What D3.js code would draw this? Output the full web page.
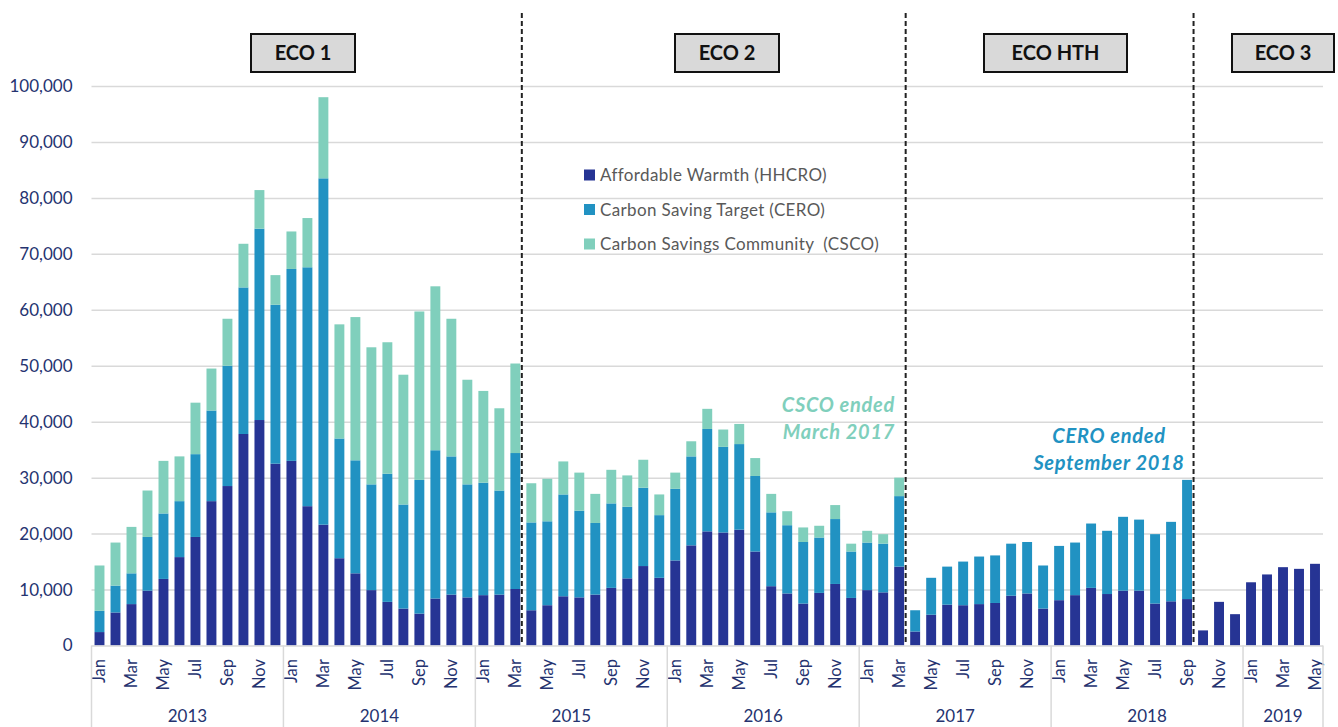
<!DOCTYPE html>
<html>
<head>
<meta charset="utf-8">
<script src="https://cdn.jsdelivr.net/npm/d3@7"></script>
<style>
  html, body { margin: 0; padding: 0; background: #fff; }
  svg { display: block; font-family: Lato, "Open Sans", sans-serif; }
</style>
</head>
<body>
<div id="chart"></div>
<script>
// data (measures per month, Jan 2013 - May 2019)
const years = [2013, 2014, 2015, 2016, 2017, 2018, 2019];
const monthNames = ["Jan","Feb","Mar","Apr","May","Jun","Jul","Aug","Sep","Oct","Nov","Dec"];
const monthsInYear = [12, 12, 12, 12, 12, 12, 5];

const hhcro = [
  2400, 5900, 7400, 9800, 11900, 15800, 19400, 25800, 28500, 37800, 40300, 32500,
  33000, 24900, 21600, 15600, 12900, 9900, 7800, 6600, 5700, 8400, 9100, 8600,
  9000, 9100, 10100, 6300, 7200, 8800, 8600, 9100, 10300, 12000, 14200, 12100,
  15200, 17900, 20400, 20200, 20700, 16800, 10600, 9300, 7500, 9400, 11000, 8500,
  9900, 9500, 14100, 2500, 5500, 7300, 7200, 7400, 7600, 8900, 9300, 6600,
  8100, 9000, 10300, 9200, 9800, 9800, 7500, 7900, 8300, 2700, 7800, 5600,
  11300, 12700, 14000, 13700, 14600
];
const cero = [
  3800, 4800, 5500, 9600, 11700, 10000, 14800, 16200, 21500, 26200, 34200, 28400,
  34300, 42700, 61900, 21400, 20200, 18900, 22900, 18600, 23900, 26500, 24700, 20200,
  20100, 18600, 24300, 15700, 15000, 18200, 15500, 12800, 15100, 12800, 14000, 11200,
  12800, 15900, 18300, 15300, 15300, 13500, 13200, 12200, 11000, 9900, 11600, 8300,
  8500, 8700, 12600, 3800, 6600, 6800, 7800, 8500, 8500, 9300, 9200, 7700,
  9700, 9400, 11500, 11300, 13200, 12700, 12400, 14200, 21300, 0, 0, 0,
  0, 0, 0, 0, 0
];
const csco = [
  8100, 7700, 8300, 8300, 9400, 8000, 9200, 7500, 8400, 7800, 6900, 5300,
  6700, 8800, 14500, 20400, 25600, 24500, 23500, 23200, 30100, 29300, 24600, 18700,
  16400, 14700, 16000, 7000, 7600, 5900, 6800, 5200, 6000, 5600, 5000, 3700,
  2900, 2700, 3600, 3100, 3600, 3200, 3300, 2500, 2600, 2100, 2500, 1400,
  2100, 1700, 3300, 0, 0, 0, 0, 0, 0, 0, 0, 0,
  0, 0, 0, 0, 0, 0, 0, 0, 0, 0, 0, 0,
  0, 0, 0, 0, 0
];

const seriesKeys = ["hhcro", "cero", "csco"];
const seriesNames = ["Affordable Warmth (HHCRO)", "Carbon Saving Target (CERO)", "Carbon Savings Community  (CSCO)"];
const seriesColors = ["#263494", "#2192c2", "#80cfbc"];

const yTicks = [0, 10000, 20000, 30000, 40000, 50000, 60000, 70000, 80000, 90000, 100000];

// scheme phases: first month of each new scheme
const schemeNames = ["ECO 1", "ECO 2", "ECO HTH", "ECO 3"];
const schemeStarts = ["2015-Apr", "2017-Apr", "2018-Oct"];

const notes = [
  { lines: ["CSCO ended", "March 2017"], color: "#80cfbc", anchor: "end", x: 895, y: 412 },
  { lines: ["CERO ended", "September 2018"], color: "#2192c2", anchor: "middle", x: 1109, y: 443 }
];

// ---- build the table ----
const months = [];
years.forEach((yr, yi) => {
  for (let m = 0; m < monthsInYear[yi]; m++) {
    months.push({ key: yr + "-" + monthNames[m], year: yr, month: m });
  }
});
const table = months.map((d, i) => ({ key: d.key, hhcro: hhcro[i], cero: cero[i], csco: csco[i] }));

// ---- layout ----
const W = 1338, H = 727;
const x0 = 91.5, x1 = 1323;
const yBase = 645.5, yTop = 86;
const ink = "#253370";

const svg = d3.select("#chart").append("svg")
  .attr("width", W).attr("height", H);

const x = d3.scaleBand()
  .domain(months.map(d => d.key))
  .range([x0, x1])
  .paddingInner(0.38)
  .paddingOuter(0.19);

const y = d3.scaleLinear().domain([0, 100000]).range([yBase, yTop]);

// y axis + gridlines
const yAxis = svg.append("g")
  .attr("transform", `translate(${x0},0)`)
  .call(d3.axisLeft(y).tickValues(yTicks).tickSize(-(x1 - x0)).tickPadding(19).tickFormat(d3.format(",")));
yAxis.select(".domain").remove();
yAxis.selectAll(".tick line")
  .attr("stroke", "#d9d9d9").attr("stroke-width", 1.5)
  .filter(d => d === 0).remove();
yAxis.selectAll(".tick text")
  .attr("fill", ink).attr("font-size", 17).attr("font-family", "Lato");

// stacked bars
const stack = d3.stack().keys(seriesKeys)(table);
svg.append("g").selectAll("g")
  .data(stack)
  .join("g")
    .attr("fill", (d, i) => seriesColors[i])
  .selectAll("rect")
  .data(d => d.filter(v => v[1] > v[0]))
  .join("rect")
    .attr("x", d => x(d.data.key))
    .attr("width", x.bandwidth())
    .attr("y", d => y(d[1]))
    .attr("height", d => y(d[0]) - y(d[1]));

// baseline
svg.append("line")
  .attr("x1", x0).attr("x2", x1)
  .attr("y1", yBase + 0.5).attr("y2", yBase + 0.5)
  .attr("stroke", "#d9d9d9").attr("stroke-width", 1.5);

// month labels (every other month)
svg.append("g").selectAll("text")
  .data(months.filter(d => d.month % 2 === 0))
  .join("text")
    .attr("transform", d => `translate(${x(d.key) + x.bandwidth() / 2},659) rotate(-90)`)
    .attr("text-anchor", "end")
    .attr("dy", "0.36em")
    .attr("font-size", 16.5)
    .attr("fill", ink)
    .text(d => monthNames[d.month]);

// year groups
let cursor = 0;
const yearGroups = years.map((yr, i) => {
  const first = months[cursor].key;
  const last = months[cursor + monthsInYear[i] - 1].key;
  cursor += monthsInYear[i];
  return { year: yr, left: x(first) - x.step() * x.paddingInner() / 2, right: x(last) + x.bandwidth() + x.step() * x.paddingInner() / 2 };
});
const yg = svg.append("g");
yg.selectAll("line")
  .data([yearGroups[0].left].concat(yearGroups.map(d => d.right)))
  .join("line")
    .attr("x1", d => d).attr("x2", d => d)
    .attr("y1", yBase).attr("y2", H)
    .attr("stroke", "#d9d9d9").attr("stroke-width", 1.5);
yg.selectAll("text")
  .data(yearGroups)
  .join("text")
    .attr("x", d => (d.left + d.right) / 2)
    .attr("y", 722)
    .attr("text-anchor", "middle")
    .attr("font-size", 17)
    .attr("fill", ink)
    .text(d => d.year);

// scheme dividers
svg.append("g").selectAll("line")
  .data(schemeStarts)
  .join("line")
    .attr("x1", d => x(d) - x.step() * x.paddingInner() / 2 - 1.5)
    .attr("x2", d => x(d) - x.step() * x.paddingInner() / 2 - 1.5)
    .attr("y1", 13).attr("y2", yBase - 3)
    .attr("stroke", "#222").attr("stroke-width", 2)
    .attr("stroke-dasharray", "5,3");

// scheme boxes
const boxes = [
  { cx: 303, w: 104 },
  { cx: 727, w: 104 },
  { cx: 1055.5, w: 143 },
  { cx: 1283, w: 102 }
];
const bg = svg.append("g").selectAll("g")
  .data(schemeNames)
  .join("g")
    .attr("transform", (d, i) => `translate(${boxes[i].cx},53)`);
bg.append("rect")
  .attr("x", (d, i) => -boxes[i].w / 2).attr("y", -19)
  .attr("width", (d, i) => boxes[i].w).attr("height", 38)
  .attr("fill", "#d9d9d9").attr("stroke", "#111").attr("stroke-width", 2);
bg.append("text")
  .attr("text-anchor", "middle").attr("dy", "0.36em")
  .attr("font-size", 20).attr("font-weight", "bold").attr("fill", "#111")
  .text(d => d);

// legend
const lg = svg.append("g").attr("transform", "translate(584,175)")
  .selectAll("g")
  .data(seriesNames)
  .join("g")
    .attr("transform", (d, i) => `translate(0,${i * 34.5})`);
lg.append("rect")
  .attr("x", 0).attr("y", -5.5).attr("width", 11).attr("height", 11)
  .attr("fill", (d, i) => seriesColors[i]);
lg.append("text")
  .attr("x", 16).attr("dy", "0.36em")
  .attr("font-size", 17).attr("letter-spacing", 0.35).attr("fill", "#595959")
  .style("white-space", "pre")
  .text(d => d);

// annotations
notes.forEach(n => {
  svg.append("text")
    .attr("x", n.x).attr("y", n.y)
    .attr("text-anchor", n.anchor)
    .attr("font-size", 20).attr("font-weight", "bold").attr("font-style", "italic")
    .attr("letter-spacing", 0.7)
    .attr("fill", n.color)
    .selectAll("tspan")
    .data(n.lines)
    .join("tspan")
      .attr("x", n.x)
      .attr("dy", (d, i) => i === 0 ? 0 : 27)
      .text(d => d);
});
</script>
</body>
</html>
